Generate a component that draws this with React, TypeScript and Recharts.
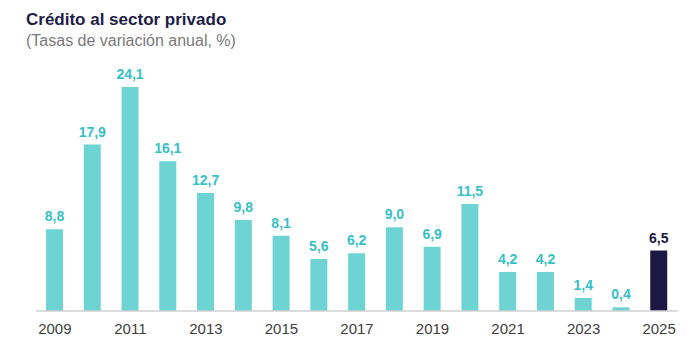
import React from "react";
import { BarChart, Bar, XAxis, YAxis, LabelList, Cell } from "recharts";

const years = ["2009","2010","2011","2012","2013","2014","2015","2016","2017","2018","2019","2020","2021","2022","2023","2024","2025"];
const values = [8.8, 17.9, 24.1, 16.1, 12.7, 9.8, 8.1, 5.6, 6.2, 9.0, 6.9, 11.5, 4.2, 4.2, 1.4, 0.4, 6.5];
const highlightYear = "2025";

const data = years.map((y, i) => ({ year: y, value: values[i] }));

const TEAL = "#6dd4d3";
const LABEL_TEAL = "#36bfc7";
const NAVY = "#1b1944";

export default function App() {
  return (
    <div style={{ position: "absolute", left: 0, top: 0, width: 696, height: 350, background: "#fff", fontFamily: "'Liberation Sans', Arial, sans-serif" }}>
      <div style={{ position: "absolute", left: 26, top: 10, fontSize: 17, fontWeight: 700, color: "#1e1d48", whiteSpace: "nowrap" }}>
        Crédito al sector privado
      </div>
      <div style={{ position: "absolute", left: 26, top: 32, fontSize: 16, color: "#7a7a7a", whiteSpace: "nowrap" }}>
        (Tasas de variación anual, %)
      </div>
      <div style={{ position: "absolute", left: 0, top: 0 }}>
        <BarChart width={696} height={350} data={data} margin={{ top: 78.6, right: 18, bottom: 9, left: 36 }} barCategoryGap={0}>
          <XAxis
            dataKey="year"
            interval={1}
            tickLine={false}
            axisLine={{ stroke: "#d0d0d0", strokeWidth: 1.5 }}
            tickMargin={6}
            height={30}
            tick={{ fontSize: 15, fill: "#404040", fontFamily: "'Liberation Sans', Arial, sans-serif" }}
          />
          <YAxis hide domain={[0, 25]} />
          <Bar dataKey="value" barSize={17} isAnimationActive={false}>
            {data.map((d) => (
              <Cell key={d.year} fill={d.year === highlightYear ? NAVY : TEAL} />
            ))}
            <LabelList
              dataKey="value"
              position="top"
              offset={8}
              content={(props: any) => {
                const { x, y, width, value, index } = props;
                const isHi = data[index].year === highlightYear;
                return (
                  <text
                    x={x + width / 2}
                    y={y - 8}
                    textAnchor="middle"
                    fontSize={14}
                    fontWeight={700}
                    fill={isHi ? NAVY : LABEL_TEAL}
                    fontFamily="'Liberation Sans', Arial, sans-serif"
                  >
                    {Number(value).toFixed(1).replace(".", ",")}
                  </text>
                );
              }}
            />
          </Bar>
        </BarChart>
      </div>
    </div>
  );
}
